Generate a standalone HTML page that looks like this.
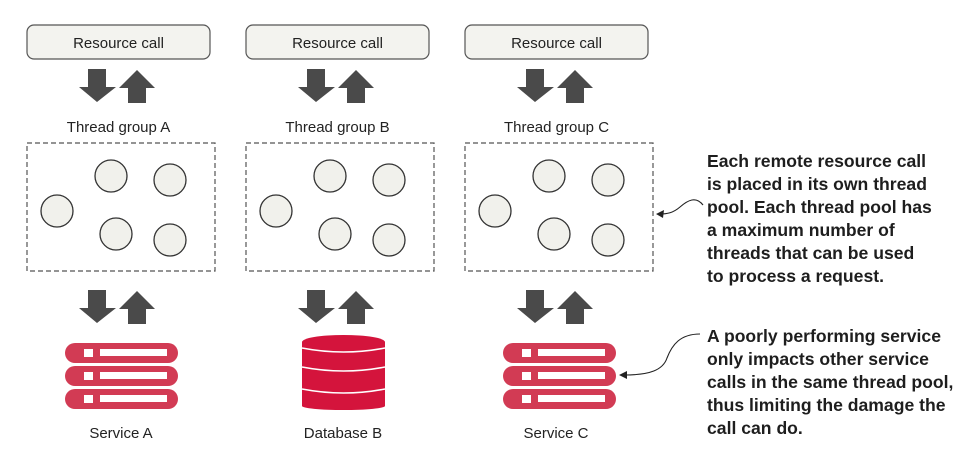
<!DOCTYPE html>
<html><head><style>
body{margin:0;background:#fff;}
svg text{font-family:"Liberation Sans",sans-serif;}
</style></head><body>
<svg width="980" height="451" viewBox="0 0 980 451" xmlns="http://www.w3.org/2000/svg">
<defs>
<g id="arr">
  <polygon points="88,69 106,69 106,87 116,87 97,102 79,87 88,87" fill="#4a4a4a"/>
  <polygon points="137,70 155,88 146,88 146,103 128,103 128,88 119,88" fill="#4a4a4a"/>
</g>
<g id="grp">
  <rect x="27" y="25" width="183" height="34" rx="7" fill="#f3f3ef" stroke="#555" stroke-width="1.2"/>
  <text x="118.5" y="48" font-size="15" text-anchor="middle" fill="#222">Resource call</text>
  <use href="#arr"/>
  <rect x="27" y="143" width="188" height="128" fill="none" stroke="#555" stroke-width="1.2" stroke-dasharray="5,3"/>
  <g fill="#f1f1ec" stroke="#333" stroke-width="1.3">
    <circle cx="57" cy="211" r="16"/><circle cx="111" cy="176" r="16"/><circle cx="170" cy="180" r="16"/>
    <circle cx="116" cy="234" r="16"/><circle cx="170" cy="240" r="16"/>
  </g>
  <use href="#arr" transform="translate(0,221)"/>
</g>
<g id="srv">
  <rect x="65" y="343" width="113" height="20" rx="10" fill="#d23b54"/>
  <rect x="65" y="366" width="113" height="20" rx="10" fill="#d23b54"/>
  <rect x="65" y="389" width="113" height="20" rx="10" fill="#d23b54"/>
  <g fill="#fff">
    <rect x="84" y="349" width="9" height="8"/><rect x="100" y="349" width="67" height="7"/>
    <rect x="84" y="372" width="9" height="8"/><rect x="100" y="372" width="67" height="7"/>
    <rect x="84" y="395" width="9" height="8"/><rect x="100" y="395" width="67" height="7"/>
  </g>
</g>
</defs>
<use href="#grp"/>
<use href="#grp" transform="translate(219,0)"/>
<use href="#grp" transform="translate(438,0)"/>
<text x="118.5" y="132" font-size="15" text-anchor="middle" fill="#222">Thread group A</text>
<text x="337.5" y="132" font-size="15" text-anchor="middle" fill="#222">Thread group B</text>
<text x="556.5" y="132" font-size="15" text-anchor="middle" fill="#222">Thread group C</text>
<use href="#srv"/>
<use href="#srv" transform="translate(438,0)"/>
<g fill="#d4143c">
  <rect x="302" y="342" width="83" height="64"/>
  <ellipse cx="343.5" cy="342" rx="41.5" ry="7"/>
  <ellipse cx="343.5" cy="406" rx="41.5" ry="4"/>
</g>
<path d="M302,348 Q343.5,356 385,348" fill="none" stroke="#fff" stroke-width="1.5"/>
<path d="M302,367 Q343.5,375 385,367" fill="none" stroke="#fff" stroke-width="1.5"/>
<path d="M302,389 Q343.5,397 385,389" fill="none" stroke="#fff" stroke-width="1.5"/>
<g font-size="15" text-anchor="middle" fill="#222">
  <text x="121" y="438">Service A</text>
  <text x="343" y="438">Database B</text>
  <text x="556" y="438">Service C</text>
</g>
<g font-size="17.6" font-weight="bold" fill="#1e1e1e">
  <text x="707" y="167">Each remote resource call</text>
  <text x="707" y="190">is placed in its own thread</text>
  <text x="707" y="213">pool. Each thread pool has</text>
  <text x="707" y="236">a maximum number of</text>
  <text x="707" y="259">threads that can be used</text>
  <text x="707" y="282">to process a request.</text>
  <text x="707" y="342">A poorly performing service</text>
  <text x="707" y="365">only impacts other service</text>
  <text x="707" y="388">calls in the same thread pool,</text>
  <text x="707" y="411">thus limiting the damage the</text>
  <text x="707" y="434">call can do.</text>
</g>
<path d="M703,205 C696,196 688,200 680,207 C673,213 667,214 660,214" fill="none" stroke="#222" stroke-width="1.1"/>
<polygon points="656,214 664,210 663,218" fill="#222"/>
<path d="M700,334 C680,334 672,345 667,358 C663,370 650,375 624,375" fill="none" stroke="#222" stroke-width="1.1"/>
<polygon points="619,375 627,371 627,379" fill="#222"/>
</svg>
</body></html>
